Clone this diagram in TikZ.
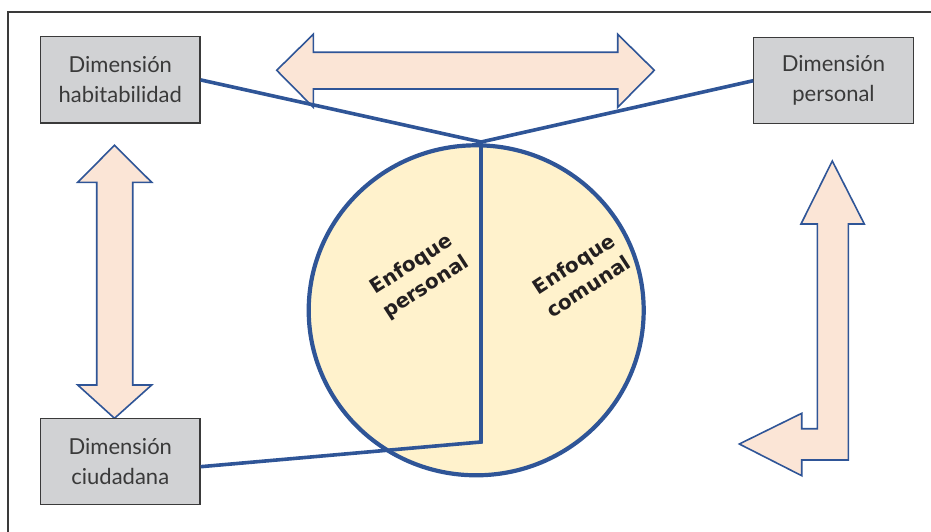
\documentclass[tikz,border=0pt]{standalone}
\usepackage{fontspec}
\setmainfont{Lato}
\newfontfamily\enfont{DejaVu Sans}
\usetikzlibrary{shapes.geometric}
\definecolor{bluel}{HTML}{2F5597}
\definecolor{arrowfill}{HTML}{FBE5D6}
\definecolor{boxfill}{HTML}{D1D2D4}
\definecolor{boxline}{HTML}{3A3A3A}
\definecolor{circfill}{HTML}{FFF2CC}
\definecolor{txtc}{HTML}{3A3A3A}
\definecolor{entxt}{HTML}{231F20}
\tikzset{
  dimbox/.style={draw=boxline, line width=1.2pt, fill=boxfill, minimum width=159.3pt, minimum height=86.3pt,
    inner sep=0pt, align=center, text=txtc, font=\fontsize{22}{30}\selectfont},
  bigarrow/.style={draw=bluel, line width=1.6pt, fill=arrowfill, line join=miter},
  conn/.style={draw=bluel, line width=3.6pt},
  entext/.style={align=center, rotate=33, text=entxt, font=\enfont\bfseries\fontsize{20}{27}\selectfont, inner sep=0pt}
}
\begin{document}
\begin{tikzpicture}[x=1pt,y=-1pt]
\useasboundingbox (0,0) rectangle (931,532);
\draw[boxline, line width=1.2pt] (8,532) -- (8,12) -- (931,12);
% arrows
\draw[bigarrow] (276.7,70.3) -- (313.3,34.3) -- (313.3,52.3) -- (617.7,52.3) -- (617.7,34.3) -- (654.3,70.3) -- (617.7,107.3) -- (617.7,89) -- (313.3,89) -- (313.3,107.3) -- cycle;
\draw[bigarrow] (114.5,145.3) -- (151.7,182.3) -- (132.7,182.3) -- (132.7,385) -- (151.7,385) -- (114.5,418.3) -- (77.7,385) -- (96.7,385) -- (96.7,182.3) -- (77.7,182.3) -- cycle;
\draw[bigarrow] (832.3,161) -- (864.3,224) -- (848.3,224) -- (848.3,460) -- (801.7,460) -- (801.7,475.7) -- (739.3,444) -- (801.7,413.3) -- (801.7,428.7) -- (817.3,428.7) -- (817.3,224) -- (801,224) -- cycle;
% boxes
\node[dimbox] (hab) at (120.3,79.9) {Dimensión\\habitabilidad};
\node[dimbox] (pers) at (833.5,80.7) {Dimensión\\personal};
\node[dimbox] (ciud) at (120.3,461.7) {Dimensión\\ciudadana};
% circle
\node[ellipse, draw=bluel, line width=4.2pt, fill=circfill, minimum width=335pt, minimum height=330pt, inner sep=0pt] (circ) at (476.2,310.3) {};
% connectors
\coordinate (top) at (481,142);
\coordinate (bot) at (481,442);
\draw[conn, line join=miter] (hab.east) -- (top) -- (pers.west);
\draw[conn] (top) -- (bot) -- ([yshift=-5pt]ciud.east);
% texts
\node[entext] (enp) at (419,276) {Enfoque\\personal};
\node[entext] (enc) at (581,275) {Enfoque\\comunal};
\end{tikzpicture}
\end{document}
